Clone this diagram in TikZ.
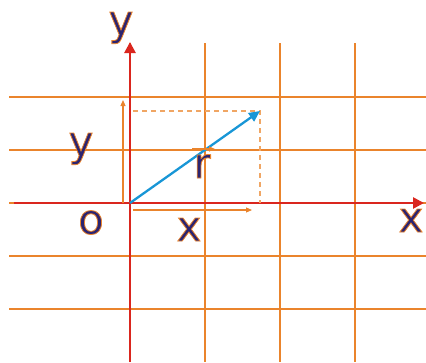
\documentclass[tikz,border=0pt]{standalone}
\usepackage{fontspec}
\setmainfont{DejaVu Sans}
\usetikzlibrary{arrows.meta}
\definecolor{GridOrange}{RGB}{234, 132, 44}
\definecolor{LightOrange}{RGB}{240, 166, 100}
\definecolor{AxisRed}{RGB}{218, 38, 30}
\definecolor{VecBlue}{RGB}{24, 150, 214}
\definecolor{LabelNavy}{RGB}{44, 36, 112}
% texte plein bleu nuit avec un contour orange
\newcommand{\axlabel}[1]{\special{pdf:literal q 2 Tr 0.8 w 0.918 0.518 0.173 RG}#1\special{pdf:literal Q}}

\begin{document}
\begin{tikzpicture}[
    x=1pt, y=-1pt,
    grid/.style={draw=GridOrange, line width=1.8pt},
    axis/.style={draw=AxisRed, line width=2.6pt, -{Triangle[length=11pt, width=11pt]}},
    vector/.style={draw=VecBlue, line width=2.3pt, -{Triangle[length=11pt, width=10pt]}},
    comp/.style={draw=GridOrange, line width=1.1pt, -{Triangle[length=6pt, width=5pt]}},
    guide/.style={draw=LightOrange, line width=1.1pt, dash pattern=on 5pt off 4pt},
    lab/.style={anchor=base, inner sep=0pt, text=LabelNavy, font=\fontsize{42}{42}\selectfont}
]
    \useasboundingbox (0,0) rectangle (426,362);

    % Grille
    \foreach \yy in {97,150,203,256,309} {
        \draw[grid] (9,\yy) -- (426,\yy);
    }
    \foreach \xx in {130,205,280,355} {
        \draw[grid] (\xx,43) -- (\xx,362);
    }

    % Points
    \coordinate (O) at (130,203);
    \coordinate (P) at (260,111);
    \coordinate (Px) at (260,203);
    \coordinate (Py) at (133,111);
    \coordinate (xend) at (424,203);
    \coordinate (xstart) at (14,203);
    \coordinate (yend) at (130,42);
    \coordinate (ystart) at (130,362);

    % Axes
    \draw[axis] (xstart) -- (xend);
    \draw[axis] (ystart) -- (yend);

    % Projections
    \draw[guide] (Py) -- (P) -- (Px);
    \coordinate (xc0) at (133,210);
    \coordinate (xc1) at (252,210);
    \coordinate (yc0) at (123,203);
    \coordinate (yc1) at (123,100);
    \draw[comp] (xc0) -- (xc1);
    \draw[comp] (yc0) -- (yc1);

    % Vecteur
    \draw[vector] (O) -- (P);

    % Etiquettes
    \node[lab] (ytop) at (121,35) {\axlabel{y}};
    \node[lab] (ycomp) at (81,156) {\axlabel{y}};
    \node[lab] (rlab) at (202,178) {\axlabel{r}};
    \node[lab] (origin) at (91,234) {\axlabel{o}};
    \node[lab] (xcomp) at (189,241) {\axlabel{x}};
    \node[lab] (xlab) at (411,232) {\axlabel{x}};

    % Fleche sur r
    \coordinate (rv0) at (192,149);
    \coordinate (rv1) at (215,149);
    \draw[comp] (rv0) -- (rv1);
\end{tikzpicture}
\end{document}
